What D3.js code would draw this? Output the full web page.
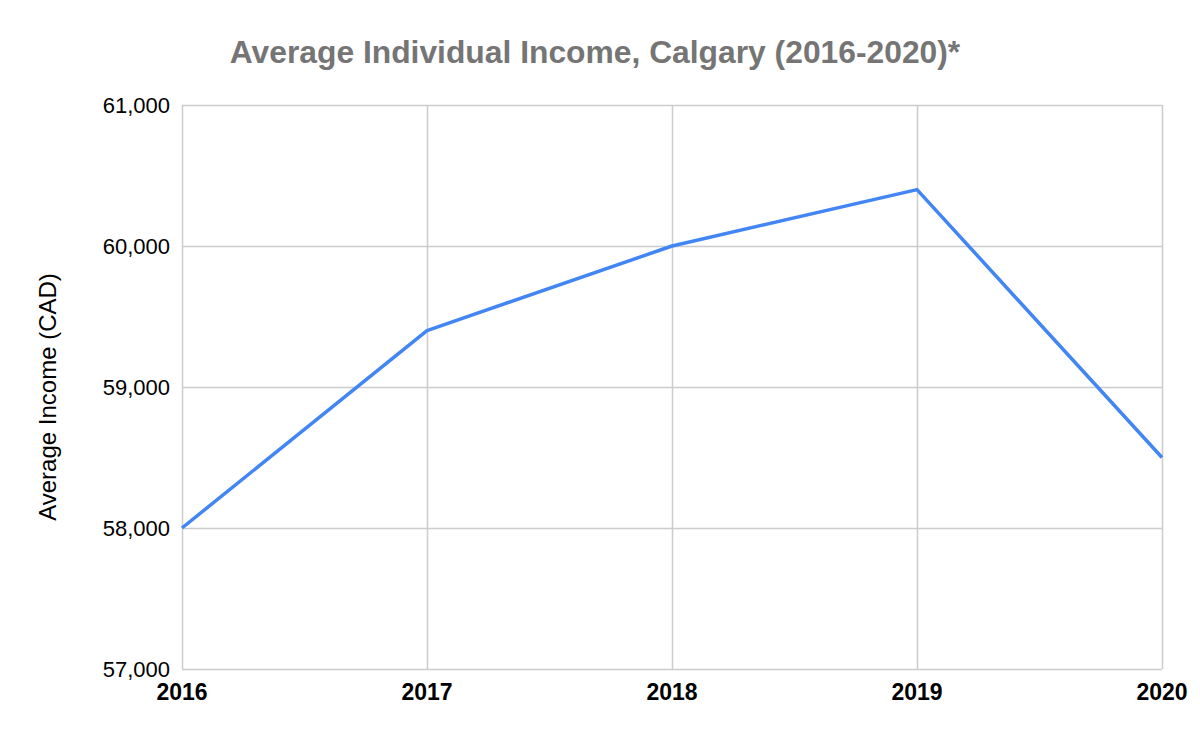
<!DOCTYPE html>
<html><head><meta charset="utf-8">
<script src="https://cdn.jsdelivr.net/npm/d3@7"></script>
<style>body{margin:0;background:#fff}svg{display:block}text{font-family:Arial,"Liberation Sans",sans-serif}</style>
</head><body>
<svg id="c" width="1200" height="742"></svg>
<script>
const years = ["2016","2017","2018","2019","2020"];
const income = [58000, 59400, 60000, 60400, 58500];
const yTicks = [57000, 58000, 59000, 60000, 61000];

const svg = d3.select("#c");
const m = {left:182, right:1162, top:105, bottom:669};
const x = d3.scalePoint().domain(years).range([m.left, m.right]);
const y = d3.scaleLinear().domain([57000, 61000]).range([m.bottom, m.top]);

svg.append("rect").attr("width",1200).attr("height",742).attr("fill","#fff");

// horizontal grid
svg.append("g").selectAll("line").data(yTicks).join("line")
  .attr("x1", m.left).attr("x2", m.right)
  .attr("y1", d=>y(d)+0.5).attr("y2", d=>y(d)+0.5)
  .attr("stroke","#cccccc").attr("stroke-width",1.5);
// vertical grid
svg.append("g").selectAll("line").data(years).join("line")
  .attr("x1", d=>x(d)+0.5).attr("x2", d=>x(d)+0.5)
  .attr("y1", m.top).attr("y2", m.bottom)
  .attr("stroke","#cccccc").attr("stroke-width",1.5);

// y labels
const fmt = d3.format(",");
svg.append("g").selectAll("text").data(yTicks).join("text")
  .attr("x", m.left-12).attr("y", d=>y(d)).attr("dy","0.35em")
  .attr("text-anchor","end").attr("font-size",22).attr("fill","#000")
  .text(d=>fmt(d));
// x labels
svg.append("g").selectAll("text").data(years).join("text")
  .attr("x", d=>x(d)).attr("y", 700)
  .attr("text-anchor","middle").attr("font-size",23).attr("font-weight","bold").attr("fill","#000")
  .text(d=>d);

// line
const line = d3.line().x((d,i)=>x(years[i])).y(d=>y(d));
svg.append("path").datum(income).attr("d", line)
  .attr("fill","none").attr("stroke","#4285F4").attr("stroke-width",3.5)
  .attr("stroke-linejoin","round");

// title
svg.append("text").attr("x",595).attr("y",63).attr("text-anchor","middle")
  .attr("font-size",31.8).attr("font-weight","bold").attr("fill","#757575")
  .text("Average Individual Income, Calgary (2016-2020)*");
// y axis title
svg.append("text").attr("transform","translate(56,397) rotate(-90)")
  .attr("text-anchor","middle").attr("font-size",24).attr("fill","#000")
  .text("Average Income (CAD)");
</script>
</body></html>
